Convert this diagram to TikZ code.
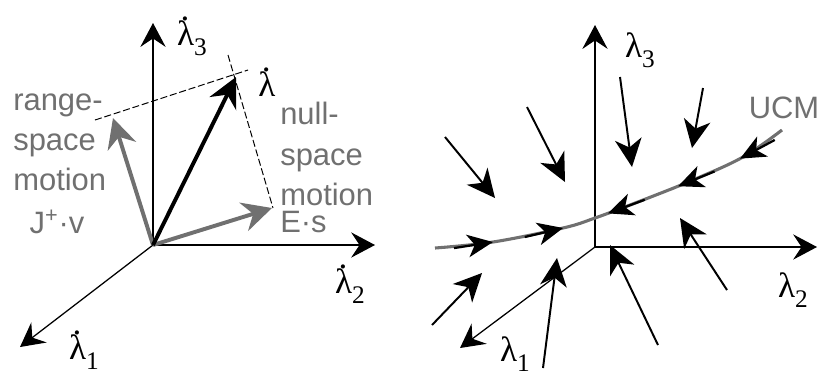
\documentclass[tikz,border=0pt]{standalone}
\usepackage{fontspec}
\newfontfamily\motionfont{Liberation Sans}
\newfontfamily\lamfont{Liberation Serif}
\definecolor{motiongray}{RGB}{112,112,112}
\usetikzlibrary{arrows.meta, decorations.markings}

\newcommand{\fwdtip}{\draw[black, line width=1.6pt] (-28pt,0) -- (-8pt,0); \arrow[black]{Stealth[length=18pt, width=16pt, inset=5pt]}}
\newcommand{\backtip}{\draw[black, line width=1.6pt] (28pt,0) -- (8pt,0); \arrowreversed[black]{Stealth[length=18pt, width=16pt, inset=5pt]}}
\newcommand{\lam}[2]{#1\raisebox{-7pt}{\fontsize{18}{18}\selectfont #2}}
\newcommand{\dotlam}{\leavevmode\ooalign{λ\cr\hidewidth\smash{\raisebox{0.72em}{.}}\kern1pt\hidewidth\cr}}

\begin{document}
\begin{tikzpicture}[x=0.025cm, y=-0.025cm,
  axis/.style={line width=0.9pt, -{Stealth[length=17pt, width=18pt, inset=6pt]}},
  bigvec/.style={line width=2.8pt, -{Stealth[length=21pt, width=21pt, inset=7pt]}},
  flow/.style={line width=1.4pt, -{Stealth[length=20pt, width=19pt, inset=6pt]}},
  guide/.style={line width=0.7pt, dash pattern=on 5pt off 2pt},
  axlabel/.style={font=\lamfont\fontsize{25}{30}\selectfont, inner sep=0pt},
  motion/.style={text=motiongray, font=\motionfont\fontsize{22}{28.5}\selectfont, align=left, inner sep=0pt},
  ucm/.style={draw=motiongray, line width=2.2pt, postaction={decorate},
    decoration={markings,
      mark=at position 0.157 with {\fwdtip},
      mark=at position 0.35 with {\fwdtip},
      mark=at position 0.477 with {\backtip},
      mark=at position 0.68 with {\backtip},
      mark=at position 0.863 with {\backtip}}}]
\useasboundingbox (0,0) rectangle (820,378);

% left: joint velocity space
\coordinate (O) at (153,245);
\coordinate (L3) at (153,23);
\coordinate (L2) at (375,245);
\coordinate (L1) at (20,347);
\draw[axis] (O) -- (L3);
\draw[axis] (O) -- (L2);
\draw[axis] (O) -- (L1);
\node[axlabel] (l3) at (192,38) {\lam{\dotlam}{3}};
\node[axlabel] (l2) at (350,286) {\lam{\dotlam}{2}};
\node[axlabel] (l1) at (84,352) {\lam{\dotlam}{1}};

\coordinate (rv) at (113,118);
\coordinate (nv) at (272,208);
\coordinate (tv) at (236,77);
\draw[guide] (95,120) -- (248,70);
\draw[guide] (228,55) -- (273,208);
\draw[bigvec, motiongray] (O) -- (rv);
\draw[bigvec, motiongray] (O) -- (nv);
\draw[bigvec] (O) -- (tv);
\node[axlabel] (ld) at (267,84) {\dotlam};

\node[motion, anchor=west] (range) at (13,142) {range-\\space\\motion};
\node[motion] (jv) at (57,222) {J\textsuperscript{+}·v};
\node[motion, anchor=west] (null) at (280,154) {null-\\space\\motion};
\node[motion, anchor=west] (es) at (280,222) {E·s};

% right: state space with UCM
\coordinate (Or) at (595,247);
\coordinate (R3) at (595,25);
\coordinate (R2) at (817,247);
\coordinate (R1) at (460,348);
\draw[axis] (Or) -- (R3);
\draw[axis] (Or) -- (R2);
\draw[axis] (Or) -- (R1);
\node[axlabel] (r3) at (640,50) {\lam{λ}{3}};
\node[axlabel] (r2) at (793,290) {\lam{λ}{2}};
\node[axlabel] (r1) at (515,354) {\lam{λ}{1}};

\draw[ucm] plot[smooth, tension=0.6] coordinates {(435,248) (493,242) (563,228) (595,218) (643,200) (693,180) (743,157) (782,130)};
\node[motion] (ucmlabel) at (784,108) {UCM};

\draw[flow] (445,137) -- (495,198);
\draw[flow] (527,107) -- (565,182);
\draw[flow] (620,77) -- (632,167);
\draw[flow] (703,88) -- (692,148);
\draw[flow] (727,290) -- (680,218);
\draw[flow] (658,345) -- (610,245);
\draw[flow] (543,368) -- (557,258);
\draw[flow] (432,325) -- (482,273);
\end{tikzpicture}
\end{document}
